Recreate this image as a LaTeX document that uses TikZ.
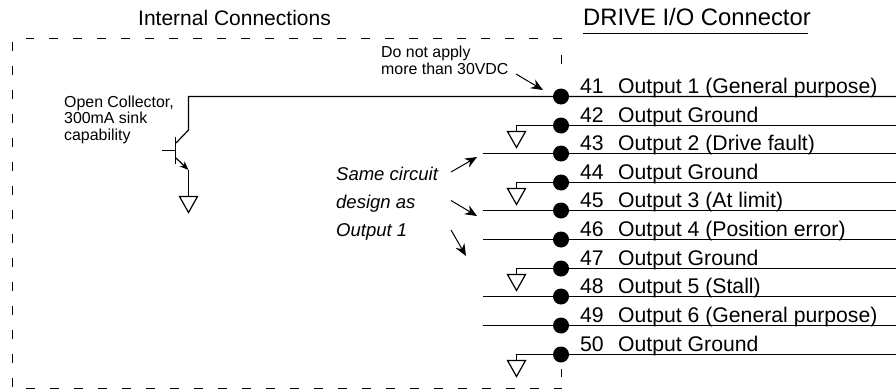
\documentclass[tikz,border=0pt]{standalone}
\usepackage{fontspec}
\setmainfont{Liberation Sans}
\usetikzlibrary{arrows.meta}
\tikzset{
  wire/.style={line width=1.2pt},
  frame/.style={line width=1.2pt, dash pattern=on 8.5pt off 15.5pt},
  pointer/.style={line width=1pt, -{Stealth[length=12pt,width=10pt]}},
  pin/.style={anchor=base west, inner sep=0pt, font=\fontsize{21.2}{21.2}\selectfont},
  note/.style={anchor=base west, inner sep=0pt, align=left, font=\fontsize{15.9}{16.5}\selectfont},
  gnd/.pic={\draw[line width=1.2pt] (-9,0) -- (9,0) -- (0,16) -- cycle;}
}
\begin{document}
\begin{tikzpicture}[x=1pt,y=-1pt]
      \useasboundingbox (0,0) rectangle (896,391);

      % pins
      \coordinate (P41) at (561,96.5);
      \coordinate (P42) at (561,125.5);
      \coordinate (P43) at (561,153.5);
      \coordinate (P44) at (561,182.5);
      \coordinate (P45) at (561,210.5);
      \coordinate (P46) at (561,239.5);
      \coordinate (P47) at (561,268.5);
      \coordinate (P48) at (561,296.5);
      \coordinate (P49) at (561,325.5);
      \coordinate (P50) at (561,354.5);

      % right ends
      \coordinate (R41) at (896,96.5);
      \coordinate (R42) at (896,125.5);
      \coordinate (R43) at (896,153.5);
      \coordinate (R44) at (896,182.5);
      \coordinate (R45) at (896,210.5);
      \coordinate (R46) at (896,239.5);
      \coordinate (R47) at (896,268.5);
      \coordinate (R48) at (896,296.5);
      \coordinate (R49) at (896,325.5);
      \coordinate (R50) at (896,354.5);

      % left stubs
      \coordinate (L43) at (483,153.5);
      \coordinate (L45) at (483,210.5);
      \coordinate (L46) at (483,239.5);
      \coordinate (L48) at (483,296.5);
      \coordinate (L49) at (483,325.5);

      % grounds
      \coordinate (G42) at (516.5,131.5);
      \coordinate (G44) at (516.5,188.5);
      \coordinate (G47) at (516.5,274.5);
      \coordinate (G50) at (516.5,360.5);
      \coordinate (G0) at (188.5,196.5);

      % transistor
      \coordinate (Bar1) at (175.5,137);
      \coordinate (Bar2) at (175.5,164);
      \coordinate (Base) at (175.5,150.5);
      \coordinate (BaseL) at (162,150.5);
      \coordinate (C1) at (176,143);
      \coordinate (C2) at (188.5,130);
      \coordinate (C3) at (188.5,96.5);
      \coordinate (E1) at (176,158);
      \coordinate (E2) at (188.5,170);

      \draw[wire](R41)--(P41)--(C3)--(C2)--(C1);
      \draw[wire](Bar1)--(Bar2);
      \draw[wire](BaseL)--(Base);
      \draw[wire,-{Stealth[length=9pt,width=7pt]}](E1)--(E2);
      \draw[wire](E2)--(G0);
      \pic at (G0) {gnd};

      \draw[wire](R42)--(P42)-|(G42);
      \draw[wire](R43)--(L43);
      \draw[wire](R44)--(P44)-|(G44);
      \draw[wire](R45)--(L45);
      \draw[wire](R46)--(L46);
      \draw[wire](R47)--(P47)-|(G47);
      \draw[wire](R48)--(L48);
      \draw[wire](R49)--(L49);
      \draw[wire](R50)--(P50)-|(G50);
      \pic at (G42) {gnd};
      \pic at (G44) {gnd};
      \pic at (G47) {gnd};
      \pic at (G50) {gnd};

      \fill(P41) circle (8);
      \fill(P42) circle (8);
      \fill(P43) circle (8);
      \fill(P44) circle (8);
      \fill(P45) circle (8);
      \fill(P46) circle (8);
      \fill(P47) circle (8);
      \fill(P48) circle (8);
      \fill(P49) circle (8);
      \fill(P50) circle (8);

      % box
      \coordinate (A) at (561.5,38.5);
      \coordinate (B) at (26,38.5);
      \draw[frame](A)--(B);
      \coordinate (D) at (12.5,42);
      \coordinate (E) at (12.5,388);
      \draw[frame](D)--(E);
      \coordinate (F) at (26,388.5);
      \coordinate (H) at (561.5,388.5);
      \draw[frame](F)--(H);
      \coordinate (I) at (561.5,55);
      \coordinate (J) at (561.5,64);
      \draw[wire](I)--(J);
      \coordinate (K) at (561.5,369);
      \coordinate (M) at (561.5,377);
      \draw[wire](K)--(M);

      % titles
      \node[pin,font=\fontsize{21}{21}\selectfont] (internal) at (138,25.5) {Internal Connections};
      \node[pin,font=\fontsize{23.8}{23.8}\selectfont] (drive) at (583,25.5) {DRIVE I/O Connector};
      \coordinate (U1) at (583,33.5);
      \coordinate (U2) at (808,33.5);
      \draw[wire](U1)--(U2);

      % labels
      \node[pin] (n41) at (580,93) {41};
      \node[pin] (n42) at (580,122) {42};
      \node[pin] (n43) at (580,150.5) {43};
      \node[pin] (n44) at (580,179) {44};
      \node[pin] (n45) at (580,207.5) {45};
      \node[pin] (n46) at (580,236.5) {46};
      \node[pin] (n47) at (580,265) {47};
      \node[pin] (n48) at (580,293.5) {48};
      \node[pin] (n49) at (580,322.5) {49};
      \node[pin] (n50) at (580,351) {50};

      \node[pin] (t41) at (618,93) {Output 1 (General purpose)};
      \node[pin] (t42) at (618,122) {Output Ground};
      \node[pin] (t43) at (618,150.5) {Output 2 (Drive fault)};
      \node[pin] (t44) at (618,179) {Output Ground};
      \node[pin] (t45) at (618,207.5) {Output 3 (At limit)};
      \node[pin] (t46) at (618,236.5) {Output 4 (Position error)};
      \node[pin] (t47) at (618,265) {Output Ground};
      \node[pin] (t48) at (618,293.5) {Output 5 (Stall)};
      \node[pin] (t49) at (618,322.5) {Output 6 (General purpose)};
      \node[pin] (t50) at (618,351) {Output Ground};

      \node[note] (oc) at (64,140) {Open Collector,\\300mA sink\\capability};
      \node[note] (warn) at (381,74) {Do not apply\\more than 30VDC};
      \node[note,font=\fontsize{18.5}{28}\selectfont\itshape] (same) at (336,236) {Same circuit\\design as\\Output 1};

      % pointers
      \coordinate (W1) at (516,74);
      \coordinate (W2) at (543,90);
      \draw[pointer](W1)--(W2);
      \coordinate (S1) at (451,172);
      \coordinate (S2) at (477,157);
      \draw[pointer](S1)--(S2);
      \coordinate (S3) at (451,200.5);
      \coordinate (S4) at (477,216);
      \draw[pointer](S3)--(S4);
      \coordinate (S5) at (451,230);
      \coordinate (S6) at (466,256);
      \draw[pointer](S5)--(S6);
\end{tikzpicture}
\end{document}
